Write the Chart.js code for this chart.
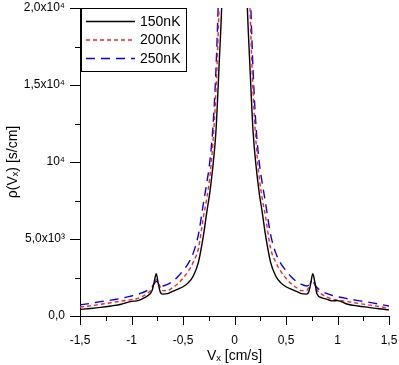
<!DOCTYPE html>
<html>
<head>
<meta charset="utf-8">
<script src="https://cdn.jsdelivr.net/npm/chart.js@4.4.0/dist/chart.umd.min.js"></script>
<style>
  html, body { margin: 0; padding: 0; background: #fff; }
</style>
</head>
<body>
<canvas id="rhoChart" width="399" height="365"></canvas>
<script>
  // velocity grid (cm/s)
  const vx = [-1.5, -1.4, -1.3, -1.2, -1.1, -1.0, -0.95, -0.9, -0.85, -0.8, -0.78, -0.76, -0.74, -0.72, -0.7,
    -0.65, -0.6, -0.55, -0.5, -0.45, -0.4, -0.35, -0.3, -0.27, -0.24, -0.21, -0.18, -0.15, -0.12, -0.09, -0.05, 0,
    0.05, 0.09, 0.12, 0.15, 0.18, 0.21, 0.24, 0.27, 0.3, 0.35, 0.4, 0.45, 0.5, 0.55, 0.6, 0.65,
    0.7, 0.72, 0.74, 0.76, 0.78, 0.8, 0.85, 0.9, 0.95, 1.0, 1.1, 1.2, 1.3, 1.4, 1.5];

  // rho(Vx) in s/cm
  const rho150 = [430, 490, 560, 650, 760, 950, 980, 1100, 1280, 1650, 2200, 2750, 2100, 1550, 1420,
    1450, 1600, 1750, 1900, 2150, 2600, 3500, 5300, 6700, 8000, 9700, 12000, 16200, 21000, 30000, 50000, 80000,
    50000, 30000, 21000, 16200, 12000, 9700, 8000, 6700, 5300, 3500, 2600, 2150, 1900, 1750, 1600, 1450,
    1420, 1550, 2100, 2750, 2200, 1450, 1180, 1080, 980, 1000, 760, 650, 560, 470, 400];
  const rho200 = [580, 660, 760, 860, 970, 1060, 1120, 1250, 1450, 1800, 2150, 2350, 2200, 1850, 1650,
    1650, 1850, 2100, 2450, 2900, 3500, 4400, 6500, 7600, 9000, 11200, 14600, 20000, 27000, 37000, 60000, 90000,
    60000, 37000, 27000, 20000, 14600, 11200, 9000, 7600, 6500, 4400, 3500, 2900, 2450, 2100, 1850, 1650,
    1650, 1850, 2200, 2300, 2100, 1700, 1400, 1220, 1100, 1040, 930, 820, 720, 620, 500];
  const rho250 = [720, 820, 930, 1030, 1150, 1300, 1380, 1500, 1650, 1900, 2100, 2250, 2150, 2000, 1950,
    2050, 2250, 2550, 2950, 3400, 4100, 5300, 7400, 8600, 10000, 12200, 16000, 22000, 30000, 40000, 65000, 100000,
    65000, 40000, 30000, 22000, 16000, 12200, 10000, 8600, 7400, 5300, 4100, 3400, 2950, 2550, 2250, 2050,
    1950, 2000, 2150, 2200, 2050, 1850, 1600, 1450, 1330, 1250, 1120, 1000, 900, 780, 650];

  // axis ticks
  const xMajor = [-1.5, -1, -0.5, 0, 0.5, 1, 1.5];
  const xLabels = ['-1,5', '-1', '-0,5', '0', '0,5', '1', '1,5'];
  const xMinor = [-1.25, -0.75, -0.25, 0.25, 0.75, 1.25];
  const yMajor = [0, 5000, 10000, 15000, 20000];
  const yLabels = ['0,0', '5,0x10³', '10⁴', '1,5x10⁴', '2,0x10⁴'];
  const yMinor = [2500, 7500, 12500, 17500];

  const FONT = '"Liberation Sans", Arial, sans-serif';

  function toPoints(vals) {
    return vx.map((v, i) => ({ x: v, y: vals[i] }));
  }

  // tick marks drawn outward, long for major and short for minor
  const axisTicks = {
    id: 'axisTicks',
    afterDraw(chart) {
      const ctx = chart.ctx;
      const xs = chart.scales.x, ys = chart.scales.y;
      const a = chart.chartArea;
      ctx.save();
      ctx.strokeStyle = '#000';
      ctx.lineWidth = 1;
      ctx.beginPath();
      xMajor.forEach(v => {
        const p = Math.round(xs.getPixelForValue(v)) + 0.5;
        ctx.moveTo(p, a.bottom); ctx.lineTo(p, a.bottom + 9);
      });
      xMinor.forEach(v => {
        const p = Math.round(xs.getPixelForValue(v)) + 0.5;
        ctx.moveTo(p, a.bottom); ctx.lineTo(p, a.bottom + 5);
      });
      yMajor.forEach(v => {
        const p = Math.round(ys.getPixelForValue(v)) + 0.5;
        ctx.moveTo(a.left, p); ctx.lineTo(a.left - 10, p);
      });
      yMinor.forEach(v => {
        const p = Math.round(ys.getPixelForValue(v)) + 0.5;
        ctx.moveTo(a.left, p); ctx.lineTo(a.left - 5, p);
      });
      ctx.stroke();
      ctx.restore();
    }
  };

  // boxed legend in the top left corner of the plot
  const boxLegend = {
    id: 'boxLegend',
    afterDraw(chart) {
      const ctx = chart.ctx;
      ctx.save();
      ctx.fillStyle = '#fff';
      ctx.fillRect(81.5, 8.5, 105, 63);
      ctx.strokeStyle = '#000';
      ctx.lineWidth = 1;
      ctx.strokeRect(81.5, 8.5, 105, 63);
      chart.data.datasets.forEach((ds, i) => {
        const y = 21.5 + i * 18.5;
        ctx.beginPath();
        ctx.setLineDash(ds.borderDash || []);
        ctx.strokeStyle = ds.borderColor;
        ctx.lineWidth = ds.borderWidth;
        ctx.moveTo(86, y);
        ctx.lineTo(135, y);
        ctx.stroke();
        ctx.setLineDash([]);
        ctx.fillStyle = '#000';
        ctx.font = '14px ' + FONT;
        ctx.textBaseline = 'middle';
        ctx.fillText(ds.label, 140, y + 0.5);
      });
      ctx.restore();
    }
  };

  const ctx = document.getElementById('rhoChart').getContext('2d');
  new Chart(ctx, {
    type: 'line',
    data: {
      datasets: [
        { label: '150nK', data: toPoints(rho150), borderColor: '#000000', borderWidth: 1.4, pointRadius: 0, fill: false, cubicInterpolationMode: 'monotone' },
        { label: '200nK', data: toPoints(rho200), borderColor: '#ff2020', borderWidth: 1.4, borderDash: [4, 3], pointRadius: 0, fill: false, cubicInterpolationMode: 'monotone' },
        { label: '250nK', data: toPoints(rho250), borderColor: '#0000ff', borderWidth: 1.4, borderDash: [9, 6], pointRadius: 0, fill: false, cubicInterpolationMode: 'monotone' }
      ]
    },
    options: {
      responsive: false,
      animation: false,
      layout: { padding: { top: 8, right: 10, left: 0, bottom: 0 } },
      plugins: { legend: { display: false }, tooltip: { enabled: false } },
      scales: {
        x: {
          type: 'linear',
          min: -1.5,
          max: 1.5,
          grid: { display: false, drawTicks: false },
          border: { display: true, color: '#000', width: 1 },
          afterBuildTicks: s => { s.ticks = xMajor.map(v => ({ value: v })); },
          ticks: {
            color: '#000',
            font: { family: FONT, size: 12 },
            padding: 17,
            maxRotation: 0,
            autoSkip: false,
            callback: (val, i) => xLabels[i]
          },
          title: { display: true, text: 'Vₓ [cm/s]', color: '#000', font: { family: FONT, size: 14 }, padding: { top: 0, bottom: 0 } },
          afterFit: s => { s.height = 49; s.paddingLeft = 0; s.paddingRight = 0; }
        },
        y: {
          min: 0,
          max: 20000,
          grid: { display: false, drawTicks: false },
          border: { display: true, color: '#000', width: 1 },
          afterBuildTicks: s => { s.ticks = yMajor.map(v => ({ value: v })); },
          ticks: {
            color: '#000',
            font: { family: FONT, size: 12 },
            padding: 15,
            autoSkip: false,
            callback: (val, i) => yLabels[i]
          },
          title: { display: true, text: 'ρ(Vₓ) [s/cm]', color: '#000', font: { family: FONT, size: 14 }, padding: { top: 5, bottom: 0 } },
          afterFit: s => { s.width = 80; s.paddingTop = 0; s.paddingBottom = 0; }
        }
      }
    },
    plugins: [axisTicks, boxLegend]
  });
</script>
</body>
</html>
